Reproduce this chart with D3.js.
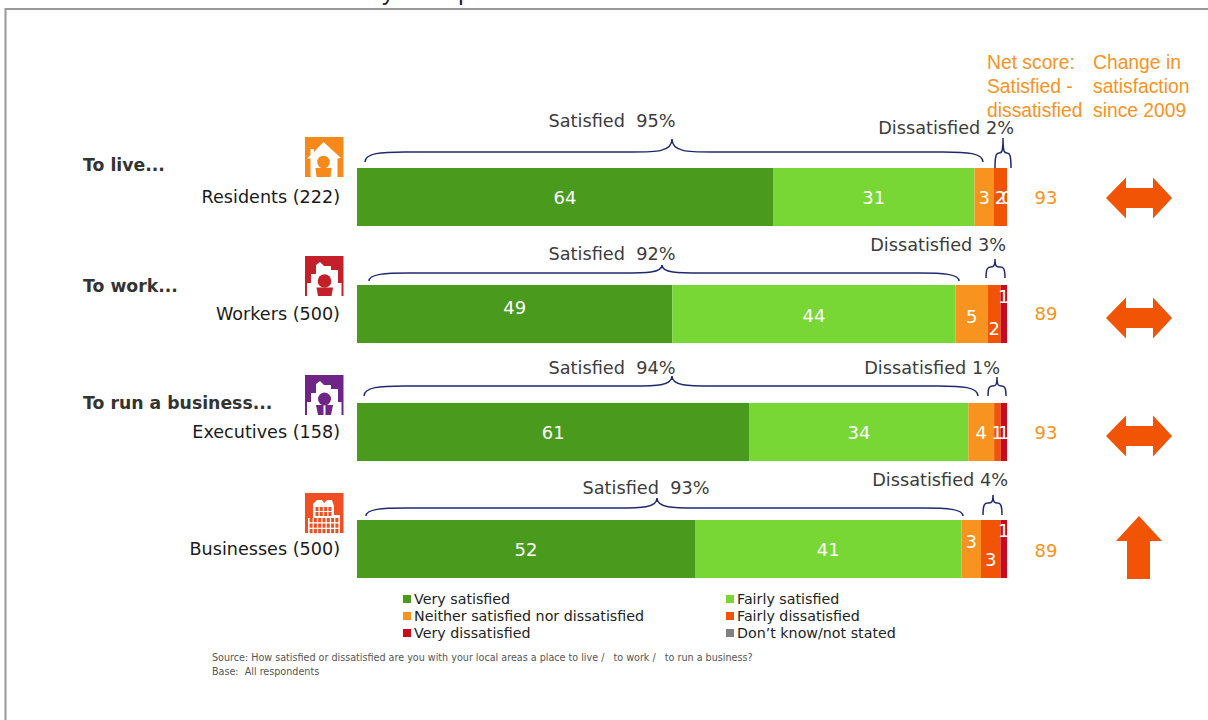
<!DOCTYPE html>
<html><head><meta charset="utf-8">
<script src="https://cdn.jsdelivr.net/npm/d3@7"></script>
<style>html,body{margin:0;padding:0;background:#fff;overflow:hidden}svg{display:block}text{font-family:"DejaVu Sans",sans-serif}</style>
</head><body><div id="c"></div>
<script>
// ---- data ----
const rowLabels = ["Residents (222)","Workers (500)","Executives (158)","Businesses (500)"];
const groupLabels = ["To live...","To work...","To run a business...",""];
const seriesNames = ["Very satisfied","Fairly satisfied","Neither satisfied nor dissatisfied","Fairly dissatisfied","Very dissatisfied","Don\u2019t know/not stated"];
const verySatisfied = [64,49,61,52];
const fairlySatisfied = [31,44,34,41];
const neither = [3,5,4,3];
const fairlyDissatisfied = [2,2,1,3];
const veryDissatisfied = [0,1,1,1];
const dontKnow = [0,0,0,0];
const satisfiedTotal = [95,92,94,93];
const dissatisfiedTotal = [2,3,1,4];
const netScore = [93,89,93,89];
const change = ["same","same","same","up"];
const header1 = ["Net score:","Satisfied -","dissatisfied"];
const header2 = ["Change in","satisfaction","since 2009"];
const titleGlyphs = ["y","p"];
const sourceLines = ["Source: How satisfied or dissatisfied are you with your local areas a place to live /   to work /   to run a business?","Base:  All respondents"];

// ---- layout / style ----
const W=1208,H=720;
const colors=["#4a9a1e","#78d735","#f7931e","#f25405","#cc0a1e","#808080"];
const ORANGE="#f7931e", NAVY="#1f2a6e", TXT="#3c3c3c";
const barTop=[168,285,403,520], barH=58;
const X0=357,X1=1007;
const satBrace=[[365,983,672,139,152,162],[369,959,662,265,273,281],[364,978,672,376,386,396],[366,963,657,498,508,516]];
const disBrace=[[995,1011,1003,138,153,168],[986,1005,995,259,267,278],[988,1006,997,377,386,396],[983,1002,993,495,503,515]];
const satText=[[612,121],[612,254],[612,368],[646,488]];
const disText=[[1014,128],[1006,245],[1000,368],[1008,480]];
const iconPos=[[305,137],[305,256],[305,375],[305,493]];
const iconColor=["#f7891a","#c4202a","#6e2585","#f04e23"];
const groupY=[165,286,403];
const labelShift=[[0,0,0,0,0,0],[-7,1,2,14,-18,0],[0,0,0,0,0,0],[0,0,-8,10,-19,0]];
const netShift=[0,-1,0,1];
const arrowY=[198,318,436,548];

const svg=d3.select("#c").append("svg").attr("width",W).attr("height",H);

// frame
svg.append("path").attr("d",`M${W+2},9H5.5V${H+2}`).attr("fill","none").attr("stroke","#999").attr("stroke-width",2);
// clipped title descenders
svg.selectAll("text.tg").data(titleGlyphs).join("text").attr("class","tg")
  .attr("x",(d,i)=>[388,465][i]).attr("y",-0.5).attr("text-anchor","middle")
  .style("font-family","'Liberation Sans',sans-serif").style("font-size","24px").attr("fill","#222").text(d=>d);

const series=[verySatisfied,fairlySatisfied,neither,fairlyDissatisfied,veryDissatisfied,dontKnow];
const rows=rowLabels.map((name,i)=>{
  let c=0; const total=d3.sum(series,s=>s[i]);
  const x=d3.scaleLinear().domain([0,total]).range([X0,X1]);
  return {name,i,segs:series.map((s,k)=>{const o={k,v:s[i],x0:x(c),x1:x(c+s[i])};c+=s[i];return o;})};
});

const brace=(x0,x1,ax,yt,ym,yb)=>{
  const r=Math.min(Math.abs(x1-x0)/4,40);
  return `M${x0},${yb}C${x0},${ym+1} ${x0+r*0.4},${ym} ${x0+r},${ym}`+
    `L${ax-r},${ym}C${ax-r*0.4},${ym} ${ax},${ym} ${ax},${yt}`+
    `C${ax},${ym} ${ax+r*0.4},${ym} ${ax+r},${ym}`+
    `L${x1-r},${ym}C${x1-r*0.4},${ym} ${x1},${ym+1} ${x1},${yb}`;
};
const arrowPath=(type,cx,cy)=>{
  if(type==="same"){
    return d3.line()([[cx-33,cy],[cx-13,cy-20.5],[cx-13,cy-10],[cx+14,cy-10],[cx+14,cy-20.5],[cx+33,cy],[cx+14,cy+20.5],[cx+14,cy+10],[cx-13,cy+10],[cx-13,cy+20.5]])+"Z";
  }
  return d3.line()([[cx,cy-32],[cx+23,cy-7],[cx+11,cy-7],[cx+11,cy+31],[cx-12,cy+31],[cx-12,cy-7],[cx-23,cy-7]])+"Z";
};

const g=svg.selectAll("g.row").data(rows).join("g").attr("class","row");
g.each(function(r){
  const s=d3.select(this), i=r.i, y=barTop[i];
  s.selectAll("rect").data(r.segs.filter(d=>d.v>0)).join("rect")
    .attr("x",d=>d.x0).attr("y",y).attr("width",d=>d.x1-d.x0).attr("height",barH).attr("fill",d=>colors[d.k]);
  // the first row also prints a zero for "very dissatisfied", half hidden at the bar's end
  s.selectAll("text.v").data(r.segs.filter(d=>d.v>0||(i===0&&d.k===4))).join("text").attr("class","v")
    .attr("x",d=>(d.x0+d.x1)/2).attr("y",d=>y+barH/2+labelShift[i][d.k]+6.5)
    .attr("text-anchor","middle").attr("fill","#fff").style("font-size","18px").text(d=>d.v);
  s.append("text").attr("x",340).attr("y",y+barH/2+6.2).attr("text-anchor","end").attr("fill","#1a1a1a").style("font-size","17.6px").text(r.name);
  if(groupLabels[i]) s.append("text").attr("x",83).attr("y",groupY[i]+6).attr("fill","#333").style("font-size","17.3px").style("font-weight","bold").text(groupLabels[i]);
  s.append("text").attr("x",1046).attr("y",y+barH/2+6.5+netShift[i]).attr("text-anchor","middle").attr("fill",ORANGE).style("font-size","18px").text(netScore[i]);
  s.append("path").attr("d",brace(...satBrace[i])).attr("fill","none").attr("stroke",NAVY).attr("stroke-width",1.5);
  s.append("path").attr("d",brace(...disBrace[i])).attr("fill","none").attr("stroke",NAVY).attr("stroke-width",1.5);
  s.append("text").attr("x",satText[i][0]).attr("y",satText[i][1]+6).attr("text-anchor","middle").attr("fill",TXT).style("font-size","17.7px").style("white-space","pre").text(`Satisfied  ${satisfiedTotal[i]}%`);
  s.append("text").attr("x",disText[i][0]).attr("y",disText[i][1]+6).attr("text-anchor","end").attr("fill",TXT).style("font-size","17.7px").text(`Dissatisfied ${dissatisfiedTotal[i]}%`);
  s.append("path").attr("d",arrowPath(change[i],1139,arrowY[i])).attr("fill","#f25405");
  // icon
  const ic=s.append("g").attr("transform",`translate(${iconPos[i]})`);
  ic.append("rect").attr("width",38.5).attr("height",40).attr("fill",iconColor[i]);
  const c=iconColor[i];
  if(i===0){
    ic.append("path").attr("fill","#fff").attr("d","M18.5,5L36,21L32.5,21.5V40H5.5V21.5H2L5.5,18V12H9V15Z");
    ic.append("circle").attr("cx",18.5).attr("cy",25).attr("r",6.3).attr("fill",c);
    ic.append("path").attr("fill",c).attr("d","M10.5,31H26.5L25.5,40H11.5Z");
  } else if(i<3){
    ic.append("path").attr("fill","#fff").attr("d","M2,40V27H6V18H11V9L15,6L19,10H26V14H33V27H36.5V40Z");
    if(i===1){
      ic.append("circle").attr("cx",19.5).attr("cy",25).attr("r",6.8).attr("fill",c);
      ic.append("path").attr("fill",c).attr("d","M11.5,31.5H28L26.5,40H13Z");
    } else {
      ic.append("circle").attr("cx",19.5).attr("cy",24).attr("r",6.5).attr("fill",c);
      ic.append("path").attr("fill",c).attr("d","M11,30H18.5V40H13ZM20.5,30H28L26,40H20.5Z");
    }
  } else {
    ic.append("path").attr("fill","#fff").attr("d","M3,40V25H8V11L12,7H17L19,10L22,7H27L29,13V22H35V40Z");
    [14,19].forEach(wy=>[10.5,14.8,19.1,23.4].forEach(wx=>
      ic.append("rect").attr("x",wx).attr("y",wy).attr("width",3).attr("height",4).attr("fill",c)));
    [25,30.5,36].forEach(wy=>[4.6,8.9,13.2,17.5,21.8,26.1,30.4].forEach(wx=>
      ic.append("rect").attr("x",wx).attr("y",wy).attr("width",3).attr("height",4.2).attr("fill",c)));
  }
});

// headers
const hdr=(lines,x)=>svg.append("g").selectAll("text").data(lines).join("text").attr("x",x).attr("y",(d,i)=>69+i*24)
  .style("font-family","'Liberation Sans',sans-serif").style("font-size","19.3px").attr("fill",ORANGE).text(d=>d);
hdr(header1,987);hdr(header2,1093);

// legend
const legX=[403,726],legY=[599,616,633];
const leg=svg.selectAll("g.leg").data(seriesNames).join("g").attr("class","leg")
  .attr("transform",(d,i)=>`translate(${legX[i%2]},${legY[Math.floor(i/2)]})`);
leg.append("rect").attr("y",-4).attr("width",8).attr("height",8).attr("fill",(d,i)=>colors[i]);
leg.append("text").attr("x",11).attr("y",5).attr("fill","#222").style("font-size","14.25px").text(d=>d);

// source
svg.selectAll("text.src").data(sourceLines).join("text").attr("class","src").attr("x",212).attr("y",(d,i)=>661+i*14)
  .attr("fill","#555").style("font-size","9.6px").style("white-space","pre").text(d=>d);
</script></body></html>
